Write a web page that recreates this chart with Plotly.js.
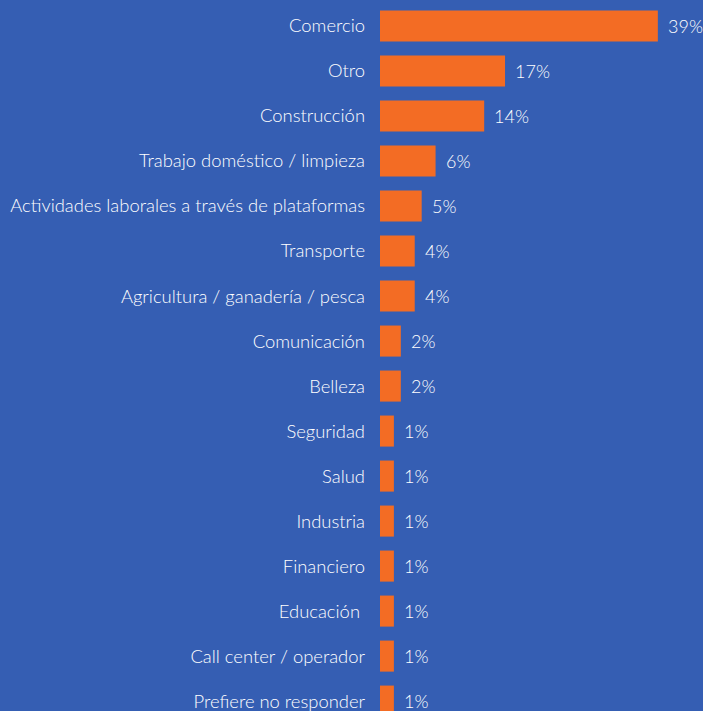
<!DOCTYPE html>
<html>
<head>
<meta charset="utf-8">
<script src="https://cdn.plot.ly/plotly-3.0.1.min.js"></script>
<style>
html,body{margin:0;padding:0;background:#355EB3;}
#chart{width:703px;height:711px;}
</style>
</head>
<body>
<div id="chart"></div>
<script>
const categories = [
  "Comercio",
  "Otro",
  "Construcción",
  "Trabajo doméstico / limpieza",
  "Actividades laborales a través de plataformas",
  "Transporte",
  "Agricultura / ganadería / pesca",
  "Comunicación",
  "Belleza",
  "Seguridad",
  "Salud",
  "Industria",
  "Financiero",
  "Educación ",
  "Call center / operador",
  "Prefiere no responder"
];
// bar ends (%)
const values = [39, 17, 14, 7, 5, 4, 4, 2, 2, 1, 1, 1, 1, 1, 1, 1];
// printed value labels
const valueLabels = ["39%", "17%", "14%", "6%", "5%", "4%", "4%", "2%", "2%", "1%", "1%", "1%", "1%", "1%", "1%", "1%"];

const BLUE = "#355EB3";
const ORANGE = "#F36C24";
const FONT = "Lato, 'Open Sans', sans-serif";
const AXIS_START = -1; // bars are drawn from the left edge of the value axis

const trace = {
  type: "bar",
  orientation: "h",
  x: values.map(v => v - AXIS_START),
  y: categories,
  base: AXIS_START,
  marker: {color: ORANGE, line: {width: 0}},
  hoverinfo: "skip"
};

const annotations = categories.map((c, i) => ({
  x: values[i],
  y: c,
  xref: "x",
  yref: "y",
  text: valueLabels[i],
  showarrow: false,
  xanchor: "left",
  yanchor: "middle",
  xshift: 9,
  borderpad: 0,
  font: {family: FONT, size: 18, color: "#ffffff", weight: 300}
}));

const layout = {
  width: 703,
  height: 711,
  margin: {l: 380, r: 0, t: 0, b: 0, pad: 0},
  paper_bgcolor: BLUE,
  plot_bgcolor: BLUE,
  bargap: 0.31,
  showlegend: false,
  xaxis: {
    range: [AXIS_START, 45.5],
    visible: false,
    fixedrange: true
  },
  yaxis: {
    type: "category",
    range: [15.22, -0.578],
    autorange: false,
    showgrid: false,
    zeroline: false,
    showline: false,
    ticks: "",
    ticklabelstandoff: 14,
    tickfont: {family: FONT, size: 18.4, color: "#ffffff", weight: 300},
    fixedrange: true
  },
  annotations: annotations
};

Plotly.newPlot("chart", [trace], layout, {displayModeBar: false, staticPlot: true});
</script>
</body>
</html>
